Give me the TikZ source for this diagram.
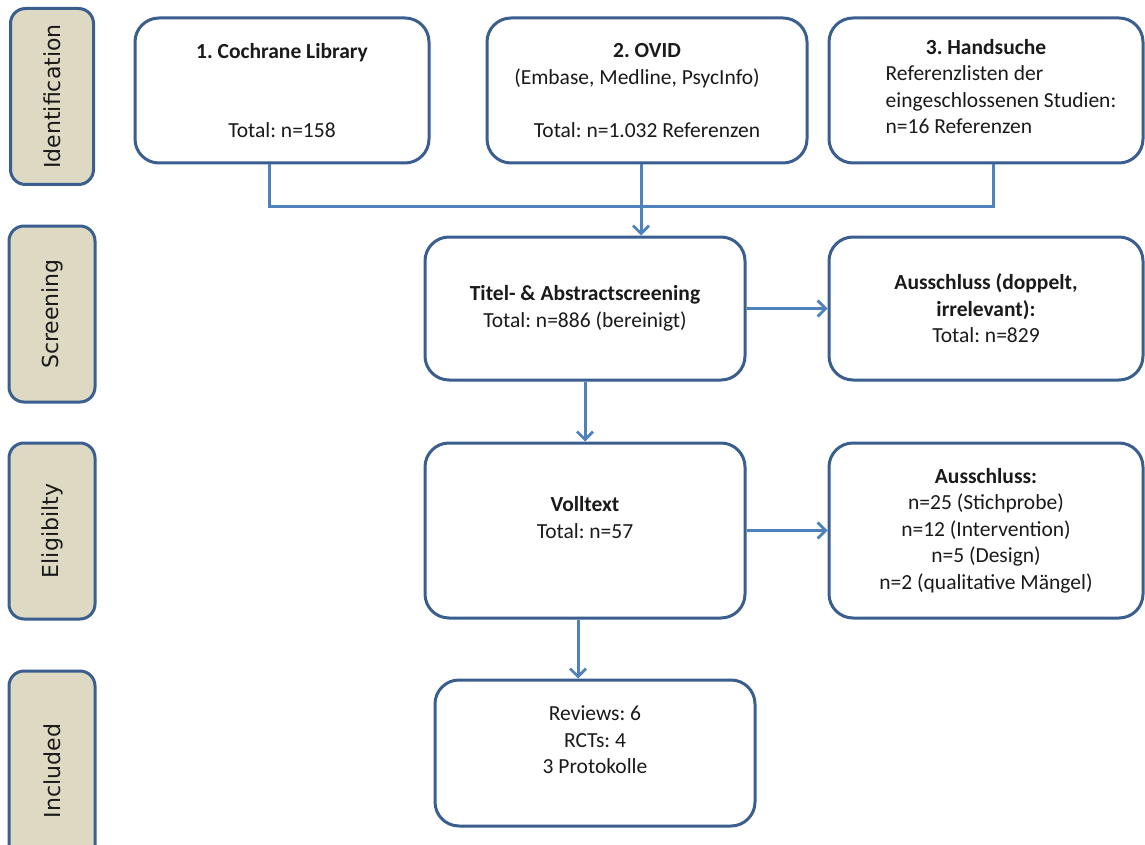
\documentclass[tikz,border=0pt]{standalone}
\usepackage{fontspec}
\setmainfont{Carlito}
\newfontfamily\stagefont{DejaVu Sans}
\usetikzlibrary{arrows.meta,calc}
\definecolor{bordc}{HTML}{3A5F8E}
\definecolor{arrc}{HTML}{4F81BD}
\definecolor{tanc}{HTML}{DDD9C3}
\definecolor{txtc}{HTML}{1A1A1A}
\frenchspacing
\begin{document}
\begin{tikzpicture}[x=1pt,y=-1pt,
  mbox/.style={draw=bordc, line width=3pt, rounded corners=24pt, fill=white,
    align=center, text=txtc, inner sep=0pt,
    font=\frenchspacing\fontsize{21.5}{26.5}\selectfont},
  stagebox/.style={draw=bordc, line width=3pt, rounded corners=15pt, fill=tanc,
    text=txtc, inner sep=0pt, font=\stagefont\fontsize{22}{24}\selectfont},
  conn/.style={draw=arrc, line width=3pt},
  arr/.style={conn, -{Straight Barb[length=8pt,width=16pt,line width=2.8pt]}}
]
\clip (0,0) rectangle (1145,845);
\fill[white] (0,0) rectangle (1145,845);

% stage boxes
\node[stagebox, minimum width=83pt, minimum height=176pt] (s1) at (52,96.5) {\rotatebox{90}{Identification}};
\node[stagebox, minimum width=86pt, minimum height=176pt] (s2) at (52,314) {\rotatebox{90}{Screening}};
\node[stagebox, minimum width=86pt, minimum height=176pt] (s3) at (52,531) {\rotatebox{90}{Eligibilty}};
\node[stagebox, minimum width=86pt, minimum height=200pt] (s4) at (52,771) {\rotatebox{90}{Included}};

% identification boxes
\node[mbox, minimum width=294pt, minimum height=145pt] (c1) at (282,90.5)
  {\textbf{1. Cochrane Library}\\ \mbox{}\\ \mbox{}\\ Total: n=158};
\node[mbox, minimum width=320pt, minimum height=145pt] (c2) at (647,90.5)
  {\textbf{2. OVID}\\ (Embase, Medline, PsycInfo)\mbox{\hspace{20pt}}\\ \mbox{}\\ Total: n=1.032 Referenzen};
\node[mbox, minimum width=314pt, minimum height=145pt] (c3) at (986,90.5)
  {\textbf{3. Handsuche}\\ \hspace*{30pt}\begin{tabular}[t]{@{}l@{}}Referenzlisten der\\ eingeschlossenen Studien:\\ n=16 Referenzen\end{tabular}};

% screening
\node[mbox, minimum width=320pt, minimum height=143pt] (t) at (585,308.5)
  {\textbf{Titel- \& Abstractscreening}\\ Total: n=886 (bereinigt)};
\node[mbox, minimum width=314pt, minimum height=143pt] (a1) at (986,308.5)
  {\textbf{Ausschluss (doppelt,}\\ \textbf{irrelevant):}\\ Total: n=829};

% eligibility
\node[mbox, minimum width=320pt, minimum height=175pt] (v) at (585,530.5)
  {\textbf{Volltext}\\ Total: n=57\\ \mbox{}};
\node[mbox, minimum width=314pt, minimum height=175pt] (a2) at (986,530.5)
  {\textbf{Ausschluss:}\\ n=25 (Stichprobe)\\ n=12 (Intervention)\\ n=5 (Design)\\ n=2 (qualitative Mängel)};

% included
\node[mbox, minimum width=320pt, minimum height=146pt] (inc) at (595,753)
  {Reviews: 6\\ RCTs: 4\\ 3 Protokolle\\ \mbox{}};

% connectors
\coordinate (j) at (641,206);
\draw[conn] ([xshift=-13pt]c1.south) |- ([xshift=7pt]c3.south |- j) -- ([xshift=7pt]c3.south);
\draw[arr] ([xshift=-6pt]c2.south) -- (j |- t.north);
\draw[arr] (t.east) -- (a1.west);
\draw[arr] (t.south) -- (v.north);
\draw[arr] (v.east) -- (a2.west);
\draw[arr] ([xshift=-7pt]v.south) -- ([xshift=-7pt]v.south |- inc.north);
\end{tikzpicture}
\end{document}
